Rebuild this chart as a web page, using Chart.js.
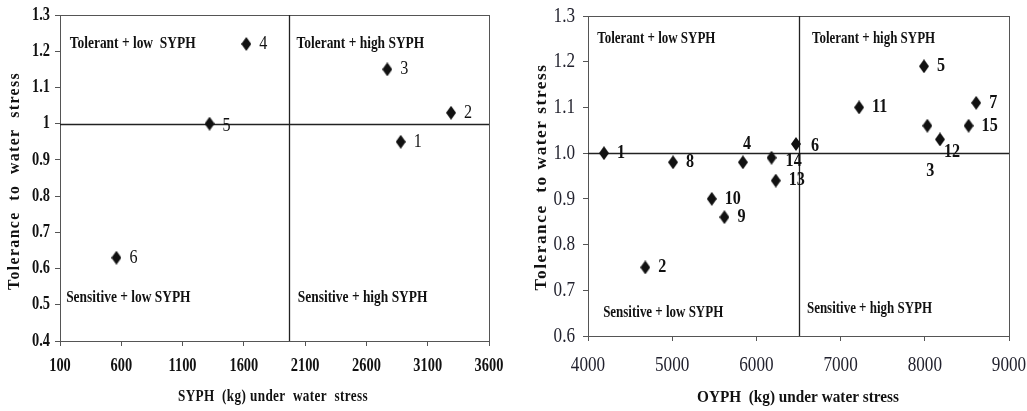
<!DOCTYPE html>
<html>
<head>
<meta charset="utf-8">
<script src="https://cdn.jsdelivr.net/npm/chart.js@4/dist/chart.umd.min.js"></script>
<style>
  html, body { margin: 0; padding: 0; background: #fff; }
  #wrap { position: relative; width: 1027px; height: 411px; overflow: hidden; }
  .box { position: absolute; top: 0; height: 411px; }
</style>
</head>
<body>
<div id="wrap">
  <div class="box" style="left:0;width:515px"><canvas id="syph"></canvas></div>
  <div class="box" style="left:515px;width:512px"><canvas id="oyph"></canvas></div>
</div>
<script>
// left panel: SYPH
const syphIds = ["1", "2", "3", "4", "5", "6"];
const syphX = [2880, 3290, 2770, 1620, 1320, 560];
const syphY = [0.95, 1.03, 1.15, 1.22, 1.00, 0.63];
const syphCutX = 1970;

// right panel: OYPH
const oyphIds = ["1", "2", "3", "4", "5", "6", "7", "8", "9", "10", "11", "12", "13", "14", "15"];
const oyphX = [4190, 4680, 8030, 5840, 7990, 6470, 8610, 5010, 5620, 5470, 7220, 8180, 6230, 6180, 8520];
const oyphY = [1.00, 0.75, 1.06, 0.98, 1.19, 1.02, 1.11, 0.98, 0.86, 0.90, 1.10, 1.03, 0.94, 0.99, 1.06];
const oyphCutX = 6500;

const cutY = 1.0;

const serif = "'Liberation Serif', 'Times New Roman', serif";
const ink = "#111";
const axisColor = "#555";

// diamond marker, a bit taller than wide
function makeDiamond() {
  "use strict";
  const c = document.createElement("canvas");
  c.width = 10;
  c.height = 14;
  const g = c.getContext("2d");
  g.fillStyle = ink;
  g.beginPath();
  g.moveTo(5, 0);
  g.lineTo(10, 7);
  g.lineTo(5, 14);
  g.lineTo(0, 7);
  g.closePath();
  g.fill();
  return c;
}
const diamond = makeDiamond();

// the source figure is squeezed sideways, so text is drawn narrow
function squeezed(ctx, text, x, y, sx, align) {
  ctx.save();
  ctx.translate(x, y);
  ctx.scale(sx, 1);
  ctx.textAlign = align;
  ctx.fillText(text, 0, 0);
  ctx.restore();
}

const quadPlugin = {
  id: "quads",
  beforeDatasetsDraw(chart, args, opts) {
    const ctx = chart.ctx;
    const a = chart.chartArea;
    const xs = chart.scales.x;
    const ys = chart.scales.y;
    ctx.save();
    ctx.strokeStyle = axisColor;
    ctx.lineWidth = 1;
    ctx.strokeRect(a.left + 0.5, a.top + 0.5, a.right - a.left, a.bottom - a.top);
    ctx.strokeStyle = "#222";
    ctx.lineWidth = 1.3;
    const vx = Math.round(xs.getPixelForValue(opts.cutX)) + 0.5;
    const hy = Math.round(ys.getPixelForValue(cutY)) + 0.5;
    ctx.beginPath();
    ctx.moveTo(vx, a.top);
    ctx.lineTo(vx, a.bottom);
    ctx.moveTo(a.left, hy);
    ctx.lineTo(a.right, hy);
    ctx.stroke();

    ctx.fillStyle = ink;
    ctx.textBaseline = "middle";

    // tick labels
    ctx.fillStyle = opts.tickColor;
    ctx.font = opts.tickFont;
    xs.ticks.forEach(function(t, i) {
      squeezed(ctx, String(t.value), xs.getPixelForTick(i), opts.xTickY, opts.tickSx, "center");
    });
    ys.ticks.forEach(function(t, i) {
      squeezed(ctx, opts.yFormat(t.value), a.left - opts.yTickGap, ys.getPixelForTick(i), opts.tickSx, "right");
    });

    // quadrant captions
    ctx.fillStyle = ink;
    ctx.font = opts.quadFont;
    opts.quads.forEach(function(q) {
      squeezed(ctx, q.text, xs.getPixelForValue(q.x), ys.getPixelForValue(q.y), opts.quadSx, "left");
    });

    // axis titles, fitted to the length they have in the figure
    ctx.font = opts.titleFont;
    ctx.letterSpacing = opts.xTitleSpacing;
    let w = ctx.measureText(opts.xTitle).width;
    squeezed(ctx, opts.xTitle, opts.xTitleX, opts.xTitleY, opts.xTitleLen / w, "center");
    ctx.letterSpacing = opts.yTitleSpacing;
    w = ctx.measureText(opts.yTitle).width;
    ctx.translate(opts.yTitleX, opts.yTitleY);
    ctx.rotate(-Math.PI / 2);
    squeezed(ctx, opts.yTitle, 0, 0, opts.yTitleLen / w, "center");
    ctx.restore();
  },
  afterDatasetsDraw(chart, args, opts) {
    const ctx = chart.ctx;
    const pts = chart.getDatasetMeta(0).data;
    ctx.save();
    ctx.fillStyle = ink;
    ctx.font = opts.labelFont;
    ctx.textBaseline = "middle";
    pts.forEach(function(p, i) {
      const off = opts.offsets[opts.ids[i]] || [13, 0];
      squeezed(ctx, opts.ids[i], p.x + off[0], p.y + off[1], opts.labelSx, "left");
    });
    ctx.restore();
  }
};

function buildChart(id, xs, ys, setup) {
  "use strict";
  const points = xs.map(function(x, i) {
    return { x: x, y: ys[i] };
  });
  const config = {
    type: "scatter",
    data: {
      datasets: [
        {
          data: points,
          pointStyle: diamond,
          pointRadius: 6,
          pointHoverRadius: 6
        }
      ]
    },
    options: {
      responsive: true,
      maintainAspectRatio: false,
      animation: false,
      events: [],
      layout: { padding: setup.padding },
      plugins: {
        legend: { display: false },
        tooltip: { enabled: false },
        quads: setup.quads
      },
      scales: {
        x: {
          type: "linear",
          min: setup.xMin,
          max: setup.xMax,
          ticks: { display: false, stepSize: setup.xStep, autoSkip: false },
          grid: { drawOnChartArea: false, tickLength: 5, color: axisColor },
          border: { color: axisColor },
          afterFit: function(s) {
            s.height = setup.xHeight;
            s.paddingLeft = 0;
            s.paddingRight = 0;
          }
        },
        y: {
          type: "linear",
          min: setup.yMin,
          max: 1.3,
          ticks: { display: false, stepSize: 0.1, autoSkip: false },
          grid: { drawOnChartArea: false, tickLength: 5, color: axisColor },
          border: { color: axisColor },
          afterFit: function(s) {
            s.width = setup.yWidth;
            s.paddingTop = 0;
            s.paddingBottom = 0;
          }
        }
      }
    },
    plugins: [quadPlugin]
  };
  return new Chart(document.getElementById(id), config);
}

buildChart("syph", syphX, syphY, {
  padding: { top: 15, right: 26, left: 0, bottom: 0 },
  xMin: 100, xMax: 3600, xStep: 500,
  yMin: 0.4,
  xHeight: 70, yWidth: 60,
  quads: {
    cutX: syphCutX,
    ids: syphIds,
    tickFont: "bold 18px " + serif,
    tickColor: ink,
    tickSx: 0.8,
    xTickY: 366,
    yTickGap: 10,
    yFormat: function(v) { return String(+v.toFixed(1)); },
    quadFont: "bold 17px " + serif,
    quadSx: 0.79,
    labelFont: "19px " + serif,
    labelSx: 0.85,
    offsets: { "5": [13, 2] },
    titleFont: "bold 17px " + serif,
    xTitle: "SYPH  (kg) under  water  stress",
    xTitleX: 273,
    xTitleY: 397,
    xTitleLen: 190,
    xTitleSpacing: "0.5px",
    yTitle: "Tolerance  to  water  stress",
    yTitleX: 15,
    yTitleY: 181,
    yTitleLen: 218,
    yTitleSpacing: "1.5px",
    quads: [
      { text: "Tolerant + low  SYPH", x: 180, y: 1.22 },
      { text: "Tolerant + high SYPH", x: 2030, y: 1.22 },
      { text: "Sensitive + low SYPH", x: 150, y: 0.52 },
      { text: "Sensitive + high SYPH", x: 2040, y: 0.52 }
    ]
  }
});

buildChart("oyph", oyphX, oyphY, {
  padding: { top: 16, right: 18, left: 0, bottom: 0 },
  xMin: 4000, xMax: 9000, xStep: 1000,
  yMin: 0.6,
  xHeight: 75, yWidth: 73,
  quads: {
    cutX: oyphCutX,
    ids: oyphIds,
    tickFont: "22px " + serif,
    tickColor: "#22222e",
    tickSx: 0.78,
    xTickY: 365,
    yTickGap: 13,
    yFormat: function(v) { return v.toFixed(1); },
    quadFont: "bold 16px " + serif,
    quadSx: 0.81,
    labelFont: "bold 19px " + serif,
    labelSx: 0.85,
    offsets: {
      "3": [-1, 45],
      "4": [0, -18],
      "6": [15, 2],
      "12": [4, 13],
      "14": [14, 3]
    },
    titleFont: "bold 17px " + serif,
    xTitle: "OYPH  (kg) under water stress",
    xTitleX: 798 - 515,
    xTitleY: 398,
    xTitleLen: 202,
    xTitleSpacing: "0px",
    yTitle: "Tolerance  to water stress",
    yTitleX: 27,
    yTitleY: 177,
    yTitleLen: 227,
    yTitleSpacing: "1.5px",
    quads: [
      { text: "Tolerant + low SYPH", x: 4110, y: 1.25 },
      { text: "Tolerant + high SYPH", x: 6660, y: 1.25 },
      { text: "Sensitive + low SYPH", x: 4180, y: 0.65 },
      { text: "Sensitive + high SYPH", x: 6600, y: 0.66 }
    ]
  }
});
</script>
</body>
</html>
